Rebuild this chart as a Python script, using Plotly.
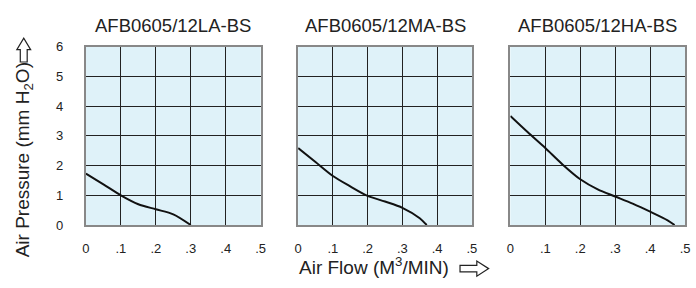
import plotly.graph_objects as go

titles = ["AFB0605/12LA-BS", "AFB0605/12MA-BS", "AFB0605/12HA-BS"]
la_x = [0, 0.05, 0.1, 0.15, 0.2, 0.25, 0.3]
la_y = [1.73, 1.37, 1.0, 0.7, 0.53, 0.36, 0.0]
ma_x = [0, 0.05, 0.1, 0.15, 0.2, 0.25, 0.3, 0.35, 0.37]
ma_y = [2.59, 2.12, 1.65, 1.3, 0.98, 0.79, 0.58, 0.23, 0.0]
ha_x = [0, 0.05, 0.1, 0.15, 0.2, 0.25, 0.3, 0.35, 0.4, 0.45, 0.47]
ha_y = [3.67, 3.12, 2.59, 2.03, 1.54, 1.2, 0.96, 0.72, 0.45, 0.16, 0.0]
x_ticks = [0, 0.1, 0.2, 0.3, 0.4, 0.5]
x_labels = ["0", ".1", ".2", ".3", ".4", ".5"]
y_ticks = [0, 1, 2, 3, 4, 5, 6]

W, H = 696, 288
panels_px = [(83, 260), (298, 474), (513, 690)]
top_px, bot_px = 42, 230

fig = go.Figure()
series = [(la_x, la_y), (ma_x, ma_y), (ha_x, ha_y)]
font = "Liberation Sans, Arial, sans-serif"
for i, ((xs, ys), (l, r)) in enumerate(zip(series, panels_px)):
    xa = "x" if i == 0 else f"x{i+1}"
    ya = "y" if i == 0 else f"y{i+1}"
    fig.add_trace(go.Scatter(x=xs, y=ys, mode="lines", xaxis=xa, yaxis=ya,
                             line=dict(color="#111111", width=2, shape="spline", smoothing=0.8),
                             showlegend=False, hoverinfo="skip"))
    axx = dict(domain=[l / W, r / W], range=[0, 0.5], tickvals=x_ticks, ticktext=x_labels,
               showgrid=True, gridcolor="#222222", gridwidth=1.2,
               showline=True, linecolor="#888888", linewidth=2, mirror=True,
               ticks="outside", ticklen=10, tickcolor="rgba(0,0,0,0)",
               tickfont=dict(family=font, size=13, color="#222222"),
               zeroline=False, anchor=ya, fixedrange=True)
    axy = dict(domain=[1 - bot_px / H, 1 - top_px / H], range=[0, 6], tickvals=y_ticks,
               showgrid=True, gridcolor="#222222", gridwidth=1.2,
               showline=True, linecolor="#888888", linewidth=2, mirror=True,
               ticks="outside", ticklen=18, tickcolor="rgba(0,0,0,0)",
               showticklabels=(i == 0),
               tickfont=dict(family=font, size=13, color="#222222"),
               zeroline=False, anchor=xa, fixedrange=True)
    fig.layout["xaxis" if i == 0 else f"xaxis{i+1}"] = axx
    fig.layout["yaxis" if i == 0 else f"yaxis{i+1}"] = axy
    fig.add_annotation(text=titles[i], x=((l + r) / 2) / W, y=1 - 20 / H, xref="paper", yref="paper",
                       showarrow=False, font=dict(family=font, size=18.5, color="#222222"),
                       xanchor="center", yanchor="middle")

fig.add_annotation(text="Air Pressure (mm H<sub>2</sub>O)", x=20 / W, y=1 - 161 / H,
                   xref="paper", yref="paper", showarrow=False, textangle=-90,
                   font=dict(family=font, size=19, color="#222222"),
                   xanchor="center", yanchor="middle")
fig.add_annotation(text="Air Flow (M<sup>3</sup>/MIN)", x=375 / W, y=1 - 273 / H,
                   xref="paper", yref="paper", showarrow=False,
                   font=dict(family=font, size=19, color="#222222"),
                   xanchor="center", yanchor="middle")


# decorative outline arrows next to the axis titles (pixel geometry -> paper coords)
def px_path(points):
    parts = []
    for k, (px, py) in enumerate(points):
        parts.append(("M" if k == 0 else "L") + f"{px / W:.5f},{1 - py / H:.5f}")
    return " ".join(parts) + " Z"


up_arrow = [(16.5, 58), (16.5, 45), (13, 45), (20, 33), (27, 45), (23.5, 45), (23.5, 58)]
right_arrow = [(462, 272.5), (479, 272.5), (479, 268), (491, 276), (479, 284), (479, 279.5), (462, 279.5)]
for pts in (up_arrow, right_arrow):
    fig.add_shape(type="path", path=px_path(pts), xref="paper", yref="paper",
                  line=dict(color="#222222", width=1.2), fillcolor="white")

fig.update_layout(width=W, height=H, margin=dict(l=0, r=0, t=0, b=0),
                  paper_bgcolor="white", plot_bgcolor="#dff2f9")
fig.write_html("out.html", config={"displayModeBar": False},
               post_script="document.body.style.margin='0';")
